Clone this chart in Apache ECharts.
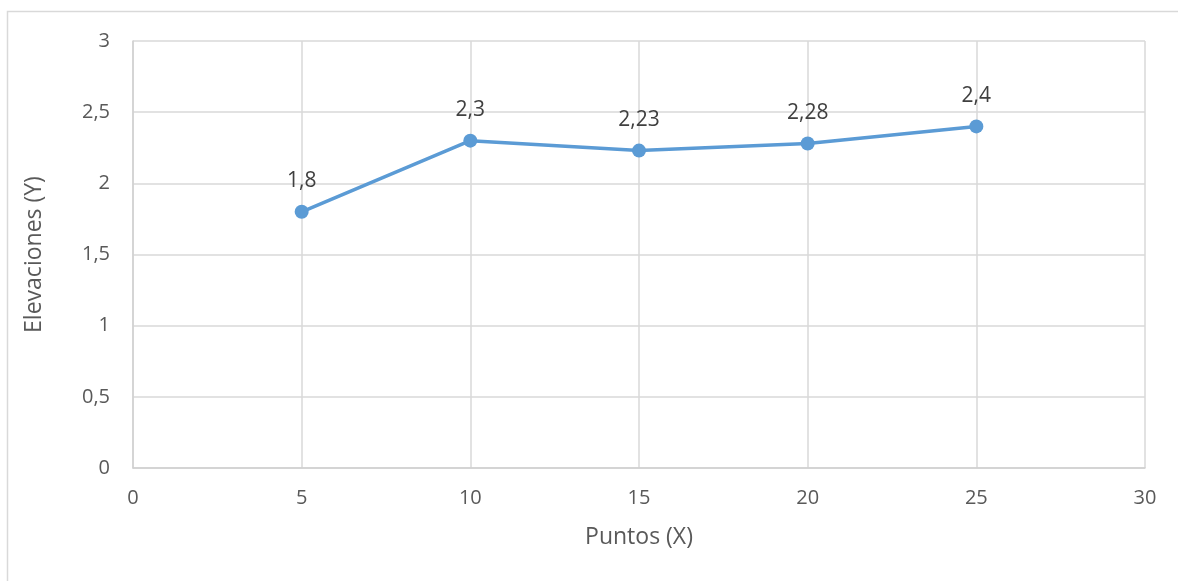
<!DOCTYPE html>
<html>
<head>
<meta charset="utf-8">
<script src="https://cdn.jsdelivr.net/npm/echarts@6/dist/echarts.min.js"></script>
<style>
  html, body { margin: 0; padding: 0; background: #fff; }
  #chart { width: 1178px; height: 581px; }
</style>
</head>
<body>
<div id="chart"></div>
<script>
// Puntos medidos y sus elevaciones
const puntos = [5, 10, 15, 20, 25];
const elevaciones = [1.8, 2.3, 2.23, 2.28, 2.4];

const xTitle = 'Puntos (X)';
const yTitle = 'Elevaciones (Y)';

const FONT = '"Open Sans", Lato, sans-serif';
const coma = v => String(v).replace('.', ',');

const chart = echarts.init(document.getElementById('chart'), null, { renderer: 'canvas' });

chart.setOption({
  backgroundColor: '#ffffff',
  animation: false,
  graphic: [{
    type: 'rect',
    shape: { x: 7.5, y: 11.5, width: 1300, height: 700 },
    style: { fill: 'none', stroke: '#d9d9d9', lineWidth: 1.5 },
    silent: true,
    z: -10
  }],
  grid: { left: 133, right: 33, top: 41, bottom: 113 },
  xAxis: {
    type: 'value',
    min: 0, max: 30, interval: 5,
    name: xTitle,
    nameLocation: 'middle',
    nameGap: 58,
    nameTextStyle: { color: '#595959', fontSize: 23, fontFamily: FONT },
    axisLine: { show: true, lineStyle: { color: '#d0d0d0', width: 1.5 } },
    axisTick: { show: false },
    axisLabel: { color: '#595959', fontSize: 20, fontFamily: FONT, margin: 20, formatter: coma },
    splitLine: { show: true, lineStyle: { color: '#d9d9d9', width: 1.5 } }
  },
  yAxis: {
    type: 'value',
    min: 0, max: 3, interval: 0.5,
    name: yTitle,
    nameLocation: 'middle',
    nameGap: 87,
    nameTextStyle: { color: '#595959', fontSize: 23, fontFamily: FONT },
    axisLine: { show: true, lineStyle: { color: '#d0d0d0', width: 1.5 } },
    axisTick: { show: false },
    axisLabel: { color: '#595959', fontSize: 20, fontFamily: FONT, margin: 23, formatter: coma },
    splitLine: { show: true, lineStyle: { color: '#d9d9d9', width: 1.5 } }
  },
  series: [{
    type: 'line',
    data: puntos.map((x, i) => [x, elevaciones[i]]),
    symbol: 'circle',
    symbolSize: 14,
    lineStyle: { color: '#5b9bd5', width: 3.5 },
    itemStyle: { color: '#5b9bd5' },
    label: {
      show: true,
      position: 'top',
      distance: 13,
      color: '#404040',
      fontSize: 21,
      fontFamily: FONT,
      formatter: p => coma(p.value[1])
    }
  }]
});
</script>
</body>
</html>
